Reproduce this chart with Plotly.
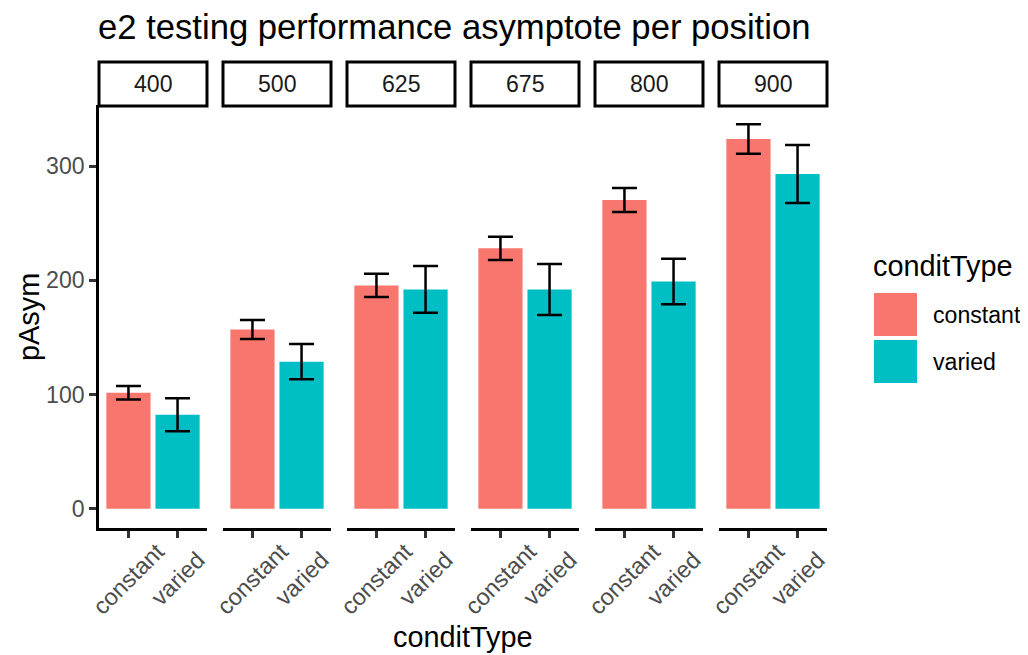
import plotly.graph_objects as go

# ---- data ----
positions = ["400", "500", "625", "675", "800", "900"]
conditions = ["constant", "varied"]
constant_mean = [101.6, 156.9, 195.5, 228.0, 270.2, 323.7]
varied_mean = [82.3, 128.8, 192.0, 192.0, 199.0, 293.0]
constant_se = [5.9, 8.3, 10.2, 10.2, 10.5, 12.9]
varied_se = [14.4, 15.5, 20.5, 22.3, 19.9, 25.4]
colors = {"constant": "#F8766D", "varied": "#00BFC4"}
y_ticks = [0, 100, 200, 300]

# ---- layout geometry (page pixels; page body has 8px margin) ----
OFF = 8
PAGE_W, PAGE_H = 1028, 655
W, H = PAGE_W - OFF, PAGE_H - OFF
PLOT_L, PLOT_R, PLOT_T, PLOT_B = 99, 827, 105, 528  # page coords of plot area
L = PLOT_L - OFF
R = PAGE_W - PLOT_R
T = PLOT_T - OFF
B = PAGE_H - PLOT_B
PW = PLOT_R - PLOT_L
PH = PLOT_B - PLOT_T
panel_w, period = 108, 124
FONT = "Liberation Sans, Arial, sans-serif"
LW = 2.5
S = 1.05  # font scale


def px(xp):
    return (xp - PLOT_L) / PW


def py(yp):
    return (PLOT_B - yp) / PH


upper = [m + s for m, s in zip(constant_mean, constant_se)] + \
        [m + s for m, s in zip(varied_mean, varied_se)]
ymax = max(upper)
yrange = [-0.05 * ymax, ymax * 1.05]

fig = go.Figure()
shapes = []
annotations = []

for i, pos in enumerate(positions):
    ax = "" if i == 0 else str(i + 1)
    means = {"constant": constant_mean[i], "varied": varied_mean[i]}
    ses = {"constant": constant_se[i], "varied": varied_se[i]}
    for c in conditions:
        fig.add_trace(go.Bar(
            x=[c], y=[means[c]], width=0.9,
            marker=dict(color=colors[c], line=dict(width=0)),
            error_y=dict(type="data", array=[ses[c]], visible=True,
                         color="black", thickness=LW, width=12.5),
            xaxis="x" + ax, yaxis="y" + ax, showlegend=False, name=c,
        ))
        # rotated category label, centred under its tick (ggplot style)
        annotations.append(dict(text=c, xref="x" + ax, yref="paper",
                                x=c, y=py(579), textangle=-45,
                                xanchor="center", yanchor="middle",
                                showarrow=False,
                                font=dict(family=FONT, size=23.5,
                                          color="#4D4D4D")))
    d0 = i * period / PW
    d1 = (i * period + panel_w) / PW
    fig.layout["xaxis" + ax] = dict(
        domain=[d0, d1], anchor="y" + ax, type="category",
        categoryorder="array", categoryarray=conditions,
        range=[-0.6, 1.6], showline=True, linecolor="black", linewidth=LW,
        ticks="outside", ticklen=7, tickwidth=LW, tickcolor="#333333",
        showticklabels=False,
        showgrid=False, zeroline=False, fixedrange=True,
    )
    ydict = dict(domain=[0, 1], anchor="x" + ax, range=yrange,
                 showgrid=False, zeroline=False)
    if i == 0:
        ydict.update(showline=True, linecolor="black", linewidth=LW,
                     ticks="outside", ticklen=7, tickwidth=LW, tickcolor="#333333",
                     tickvals=y_ticks, ticktext=[str(t) for t in y_ticks],
                     tickfont=dict(family=FONT, size=22 * S, color="#4D4D4D"))
    else:
        ydict.update(matches="y", showline=False, showticklabels=False, ticks="")
    fig.layout["yaxis" + ax] = ydict

    # strip
    shapes.append(dict(type="rect", xref="paper", yref="paper",
                       x0=d0, x1=d1, y0=py(106), y1=py(62),
                       line=dict(color="black", width=3), fillcolor="white"))
    annotations.append(dict(text=pos, xref="paper", yref="paper",
                            x=(d0 + d1) / 2, y=py(84), showarrow=False,
                            xanchor="center", yanchor="middle",
                            font=dict(family=FONT, size=22 * S, color="#1A1A1A")))

# titles
annotations.append(dict(text="e2 testing performance asymptote per position",
                        xref="paper", yref="paper", x=px(96), y=py(27),
                        xanchor="left", yanchor="middle", showarrow=False,
                        font=dict(family=FONT, size=33 * S, color="black")))
annotations.append(dict(text="pAsym", xref="paper", yref="paper",
                        x=px(29), y=py(317), textangle=-90,
                        xanchor="center", yanchor="middle", showarrow=False,
                        font=dict(family=FONT, size=27.5 * S, color="black")))
annotations.append(dict(text="conditType", xref="paper", yref="paper",
                        x=px(463), y=py(637), xanchor="center", yanchor="middle",
                        showarrow=False,
                        font=dict(family=FONT, size=27.5 * S, color="black")))

# legend (manual, ggplot style)
annotations.append(dict(text="conditType", xref="paper", yref="paper",
                        x=px(871), y=py(266), xanchor="left", yanchor="middle",
                        showarrow=False,
                        font=dict(family=FONT, size=27.5 * S, color="black")))
key_tops = [293, 340]
for c, top in zip(conditions, key_tops):
    shapes.append(dict(type="rect", xref="paper", yref="paper",
                       x0=px(874), x1=px(917), y0=py(top + 43), y1=py(top),
                       line=dict(width=0), fillcolor=colors[c]))
    annotations.append(dict(text=c, xref="paper", yref="paper",
                            x=px(931), y=py(top + 22), xanchor="left",
                            yanchor="middle", showarrow=False,
                            font=dict(family=FONT, size=22 * S, color="black")))

fig.update_layout(
    width=W, height=H,
    margin=dict(l=L, r=R, t=T, b=B, autoexpand=False),
    paper_bgcolor="white", plot_bgcolor="white",
    showlegend=False, barmode="overlay",
    shapes=shapes, annotations=annotations,
    font=dict(family=FONT),
)

fig.write_html("out.html")
